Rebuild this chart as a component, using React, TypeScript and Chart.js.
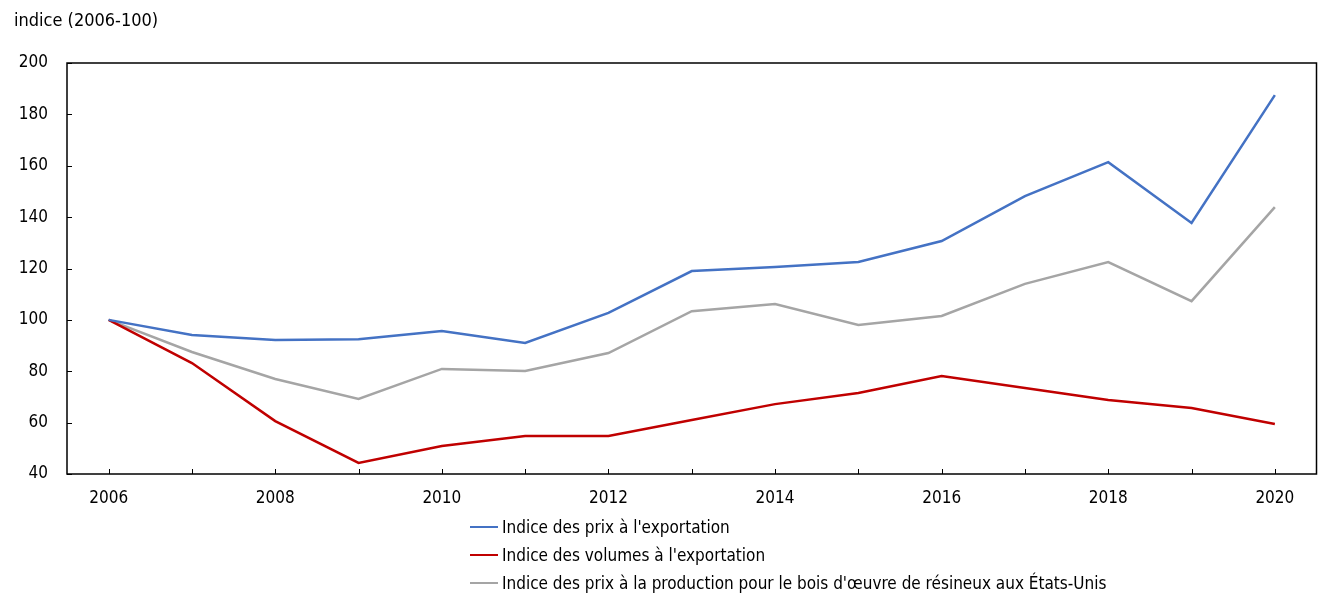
import React, { useEffect, useRef } from "react";
import { Chart, registerables } from "chart.js";

Chart.register(...registerables);

const years = ["2006","2007","2008","2009","2010","2011","2012","2013","2014","2015","2016","2017","2018","2019","2020"];
const prixExport = [100, 94.1, 92.2, 92.5, 95.7, 91.0, 102.7, 119.0, 120.6, 122.5, 130.7, 148.2, 161.4, 137.7, 187.5];
const volumesExport = [100, 83.2, 60.6, 44.3, 50.9, 54.8, 54.8, 61.0, 67.2, 71.5, 78.1, 73.5, 68.8, 65.7, 59.5];
const prixProduction = [100, 87.5, 77.0, 69.2, 80.9, 80.1, 87.1, 103.4, 106.2, 98.0, 101.5, 114.0, 122.5, 107.3, 143.9];
const yTicks = [40, 60, 80, 100, 120, 140, 160, 180, 200];

const seriesNames = [
  "Indice des prix à l'exportation",
  "Indice des volumes à l'exportation",
  "Indice des prix à la production pour le bois d'œuvre de résineux aux États-Unis",
];
const colors = ["#4472C4", "#C00000", "#A5A5A5"];
const FONT = "'Liberation Sans Narrow', 'Arial Narrow', 'DejaVu Sans Condensed', sans-serif";

const innerTicks = {
  id: "innerTicks",
  afterDraw(chart: any) {
    const { ctx, chartArea } = chart;
    const { left, right, top, bottom } = chartArea;
    const xs = chart.scales.x;
    const ys = chart.scales.y;
    ctx.save();
    ctx.strokeStyle = "#000";
    ctx.lineWidth = 1;
    for (let i = 0; i < years.length; i++) {
      const x = Math.round(xs.getPixelForValue(i)) + 0.5;
      ctx.beginPath();
      ctx.moveTo(x, bottom);
      ctx.lineTo(x, bottom - 5);
      ctx.stroke();
    }
    for (const v of yTicks) {
      const y = Math.round(ys.getPixelForValue(v)) + 0.5;
      ctx.beginPath();
      ctx.moveTo(left, y);
      ctx.lineTo(left + 5, y);
      ctx.stroke();
    }
    ctx.lineWidth = 1.5;
    ctx.strokeRect(left, top, right - left, bottom - top);
    ctx.restore();
  },
};

export default function App() {
  const ref = useRef<HTMLCanvasElement>(null);
  useEffect(() => {
    if (!ref.current) return;
    const chart = new Chart(ref.current, {
      type: "line",
      data: {
        labels: years,
        datasets: [prixExport, volumesExport, prixProduction].map((d, i) => ({
          label: seriesNames[i],
          data: d,
          borderColor: colors[i],
          backgroundColor: colors[i],
          borderWidth: 2.5,
          pointRadius: 0,
          tension: 0,
          fill: false,
        })),
      },
      options: {
        animation: false,
        responsive: false,
        layout: { padding: { top: 63, right: 1.5, left: 0, bottom: 0 } },
        plugins: { legend: { display: false }, tooltip: { enabled: false } },
        scales: {
          x: {
            offset: true,
            grid: { display: false, drawTicks: false },
            border: { display: false },
            ticks: {
              autoSkip: false,
              maxRotation: 0,
              padding: 14,
              color: "#000",
              font: { family: FONT, size: 17 },
              callback: (_v: any, i: number) => (i % 2 === 0 ? years[i] : ""),
            },
            afterFit: (s: any) => { s.height = 119; },
          },
          y: {
            min: 40,
            max: 200,
            grid: { display: false, drawTicks: false },
            border: { display: false },
            ticks: {
              stepSize: 20,
              padding: 19,
              color: "#000",
              font: { family: FONT, size: 17 },
            },
            afterFit: (s: any) => { s.width = 67; },
          },
        },
      },
      plugins: [innerTicks],
    });
    return () => chart.destroy();
  }, []);

  return (
    <div style={{ position: "absolute", left: 0, top: 0, width: 1318, height: 593, fontFamily: FONT, color: "#000" }}>
      <canvas ref={ref} width={1318} height={593} style={{ position: "absolute", left: 0, top: 0 }} />
      <div style={{ position: "absolute", left: 14, top: 9, fontSize: 18, lineHeight: "22px" }}>indice (2006-100)</div>
      <div style={{ position: "absolute", left: 470, top: 513 }}>
        {seriesNames.map((n, i) => (
          <div key={n} style={{ display: "flex", alignItems: "center", height: 28, fontSize: 17 }}>
            <span style={{ display: "inline-block", width: 28, height: 2.5, background: colors[i], marginRight: 4 }} />
            <span>{n}</span>
          </div>
        ))}
      </div>
    </div>
  );
}
